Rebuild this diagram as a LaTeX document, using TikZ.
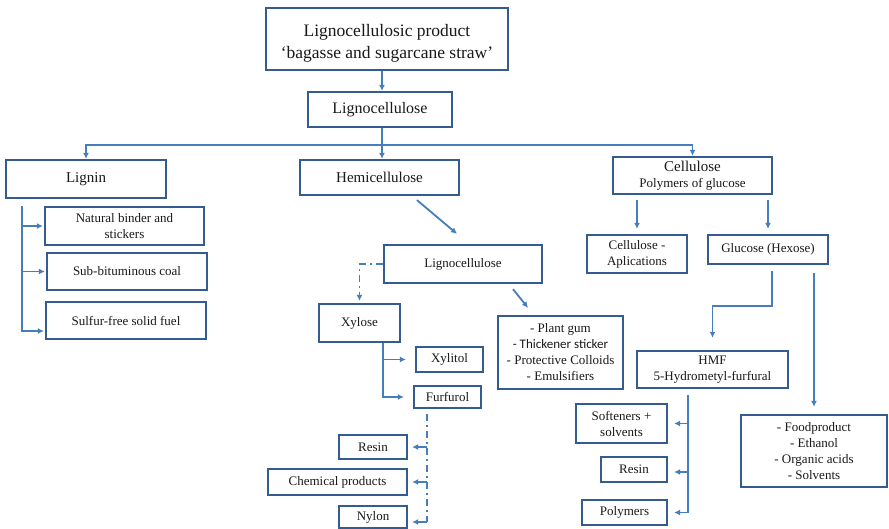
\documentclass[tikz,border=0pt]{standalone}
\usepackage{fontspec}
\setmainfont{Liberation Serif}
\newfontfamily\sanscal{Carlito}
\usetikzlibrary{arrows.meta,calc}
\definecolor{boxc}{RGB}{52,92,145}
\definecolor{arrc}{RGB}{70,125,188}
\definecolor{txtc}{RGB}{25,25,25}
\begin{document}
\begin{tikzpicture}[x=1pt,y=-1pt,
  box/.style={draw=boxc,line width=2.3pt,align=center,inner sep=0pt,text=txtc,font=\fontsize{13}{16}\selectfont},
  arr/.style={draw=arrc,line width=1.8pt,-{Latex[length=6pt,width=6pt]}},
  conn/.style={draw=arrc,line width=1.8pt},
  dd/.style={dash pattern=on 7pt off 4pt on 2pt off 4pt}]
\useasboundingbox (0,0) rectangle (889,529);
\fill[white] (0,0) rectangle (889,529);

% boxes
\node[box,minimum width=242pt,minimum height=62pt] (top) at (387,39) {};
\node[align=center,inner sep=0pt,text=txtc,font=\fontsize{17.5}{22}\selectfont] (toptxt) at (387,43) {Lignocellulosic product\\‘bagasse and sugarcane straw’};
\node[box,minimum width=144pt,minimum height=35pt,font=\fontsize{16}{19}\selectfont] (lc) at (380,109.5) {Lignocellulose};
\node[box,minimum width=160pt,minimum height=38pt,font=\fontsize{15}{18}\selectfont] (lignin) at (86,179) {Lignin};
\node[box,minimum width=159pt,minimum height=35pt,font=\fontsize{15}{18}\selectfont] (hemi) at (379.5,177.5) {Hemicellulose};
\node[box,minimum width=159pt,minimum height=37pt] (cell) at (692.5,175.5) {{\fontsize{15}{17}\selectfont Cellulose}\\Polymers of glucose};

\node[box,minimum width=159pt,minimum height=38pt] (binder) at (124.5,226) {Natural binder and\\stickers};
\node[box,minimum width=160pt,minimum height=37pt] (coal) at (127,271.5) {Sub-bituminous coal};
\node[box,minimum width=160pt,minimum height=37pt] (fuel) at (126,320.5) {Sulfur-free solid fuel};

\node[box,minimum width=158pt,minimum height=38pt] (lc2) at (463,264) {Lignocellulose};
\node[box,minimum width=81pt,minimum height=38pt] (xylose) at (359.5,323) {Xylose};
\node[box,minimum width=67pt,minimum height=25pt] (xylitol) at (449.5,359.5) {Xylitol};
\node[box,minimum width=67pt,minimum height=22pt] (furf) at (447.5,397) {Furfurol};
\node[box,minimum width=125pt,minimum height=73pt] (gum) at (560.5,352.5) {- Plant gum\\{\sanscal - Thickener sticker}\\- Protective Colloids\\- Emulsifiers};
\node[box,minimum width=68pt,minimum height=24pt] (resinA) at (373,447) {Resin};
\node[box,minimum width=139pt,minimum height=26pt] (chem) at (337.5,482) {Chemical products};
\node[box,minimum width=68pt,minimum height=22pt] (nylon) at (373,517) {Nylon};

\node[box,minimum width=100pt,minimum height=38pt] (capp) at (637,254) {Cellulose -\\Aplications};
\node[box,minimum width=120pt,minimum height=29pt] (gluc) at (768,249.5) {Glucose (Hexose)};
\node[box,minimum width=151pt,minimum height=37pt] (hmf) at (712.5,369.5) {HMF\\5-Hydrometyl-furfural};
\node[box,minimum width=146pt,minimum height=72pt] (food) at (814,451) {- Foodproduct\\- Ethanol\\- Organic acids\\- Solvents};
\node[box,minimum width=91pt,minimum height=39pt] (soft) at (621.5,423.5) {Softeners +\\solvents};
\node[box,minimum width=66pt,minimum height=25pt] (resinB) at (634,469.5) {Resin};
\node[box,minimum width=85pt,minimum height=25pt] (poly) at (624.5,512.5) {Polymers};

% connectors: top level
\draw[arr] ([xshift=2pt]lc.north |- top.south) -- ([xshift=2pt]lc.north);
\coordinate (split) at ($(lc.south)+(2,17)$);
\draw[conn] ([xshift=2pt]lc.south) -- (split);
\draw[arr] (split) -| (lignin.north);
\draw[arr] (split) -| (cell.north);
\draw[arr] (split) -- (split |- hemi.north);

% lignin
\coordinate (lt) at ($(lignin.south west)+(17,7)$);
\draw[arr,shorten >=1pt] (lt) |- ($(fuel.west)+(0,10.5)$);
\draw[arr,shorten >=1pt] (lt |- binder.west) -- (binder.west);
\draw[arr,shorten >=1pt] (lt |- coal.west) -- (coal.west);

% hemicellulose
\draw[arr] ($(hemi.south)+(37.5,4)$) -- ($(lc2.north)+(-6,-10)$);
\draw[arr,dd,shorten >=2pt] (lc2.west) -| (xylose.north);
\draw[arr,shorten >=9pt] ([xshift=23.5pt]xylose.south) |- (xylitol.west);
\draw[arr,shorten >=9pt] ([xshift=23.5pt]xylose.south) |- (furf.west);
\draw[arr] ($(lc2.south)+(50,5)$) -- ($(gum.north)+(-32.5,-7)$);
\coordinate (fs) at ($(furf.south)+(-20.5,5)$);
\coordinate (nyl) at ($(nylon.east)+(0,5)$);
\draw[conn,dd] (fs) -- (fs |- nyl);
\draw[arr,shorten >=4pt] (fs |- resinA.east) -- (resinA.east);
\draw[arr,shorten >=4pt] (fs |- chem.east) -- (chem.east);
\draw[arr,shorten >=4pt] (fs |- nyl) -- (nyl);

% cellulose
\draw[arr,shorten <=5pt,shorten >=5pt] (cell.south -| capp.north) -- (capp.north);
\draw[arr,shorten <=5pt,shorten >=5pt] (cell.south -| gluc.north) -- (gluc.north);
\draw[arr,shorten >=12pt] ($(gluc.south)+(4,6)$) -- ++(0,35) -| (hmf.north);
\draw[arr,shorten <=8pt,shorten >=7pt] (gluc.south -| food.north) -- (food.north);
\coordinate (ht) at ($(hmf.south)+(-24.5,6)$);
\draw[arr,shorten >=6pt] (ht) |- (poly.east);
\draw[arr,shorten >=6pt] (ht |- soft.east) -- (soft.east);
\draw[arr,shorten >=6pt] ($(ht |- resinB.east)+(0,2.5)$) -- ($(resinB.east)+(0,2.5)$);
\end{tikzpicture}
\end{document}
